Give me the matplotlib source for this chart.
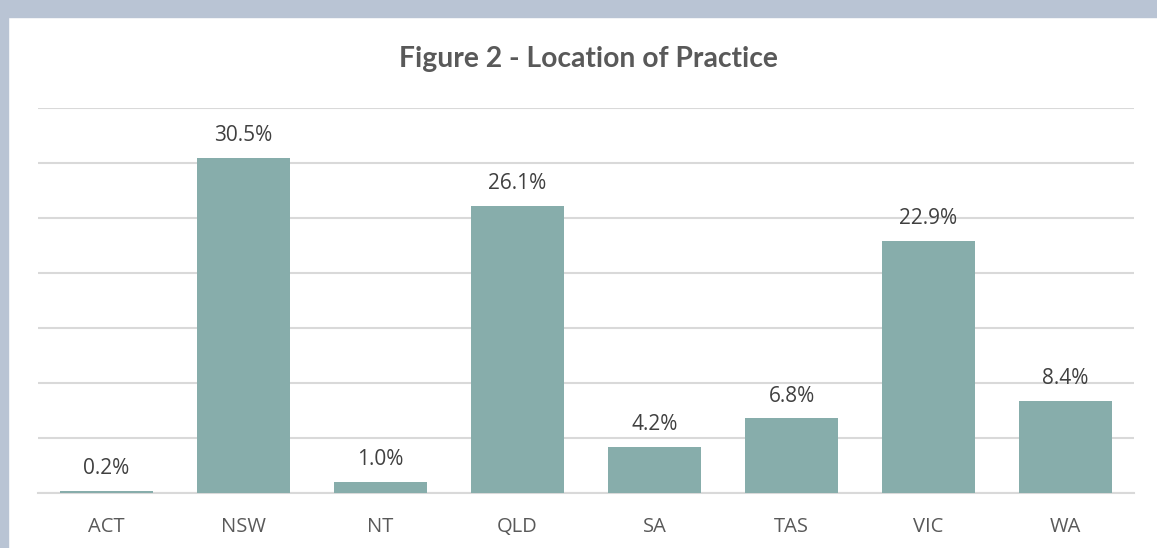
import matplotlib.pyplot as plt
from matplotlib.patches import Rectangle

# data
states = ['ACT', 'NSW', 'NT', 'QLD', 'SA', 'TAS', 'VIC', 'WA']
share = [0.2, 30.5, 1.0, 26.1, 4.2, 6.8, 22.9, 8.4]
labels = ['0.2%', '30.5%', '1.0%', '26.1%', '4.2%', '6.8%', '22.9%', '8.4%']

W, H = 1157, 548
fig = plt.figure(figsize=(W / 100, H / 100), dpi=100)
fig.patch.set_facecolor('white')

# light blue frame on top and left
fig.patches.append(Rectangle((0, 1 - 17 / H), 1, 17 / H, transform=fig.transFigure,
                             color='#B9C4D4', zorder=0))
fig.patches.append(Rectangle((0, 0), 8 / W, 1, transform=fig.transFigure,
                             color='#B9C4D4', zorder=0))

plt.rcParams['font.family'] = ['Open Sans', 'DejaVu Sans']

ax = fig.add_axes([38 / W, 1 - 493 / H, (1134 - 38) / W, (493 - 108) / H])
x = range(len(states))
ax.bar(x, share, width=0.686, color='#87ADAB', zorder=3)

ax.set_xlim(-0.5, len(states) - 0.5)
ax.set_ylim(0, 35)
ax.set_yticks(range(0, 36, 5))
ax.yaxis.grid(True, color='#D9D9D9', linewidth=1.5, zorder=0)
ax.tick_params(axis='y', left=False, labelleft=False)
ax.tick_params(axis='x', bottom=False, colors='#595959', labelsize=14.5, pad=13.5)
ax.set_xticks(list(x))
ax.set_xticklabels(states)
for s in ['top', 'right', 'left']:
    ax.spines[s].set_visible(False)
ax.spines['bottom'].set_color('#D9D9D9')
ax.spines['bottom'].set_linewidth(1.5)

for i, v in enumerate(share):
    ax.annotate(labels[i], (i, v), xytext=(0, 12), textcoords='offset points',
                ha='center', va='baseline', fontsize=15, color='#404040')

fig.text(588 / W, 1 - 67 / H, 'Figure 2 - Location of Practice', ha='center', va='baseline',
         fontsize=20.3, fontweight='bold', color='#595959', family=['Lato', 'DejaVu Sans'])

fig.savefig('out.png', dpi=100)
